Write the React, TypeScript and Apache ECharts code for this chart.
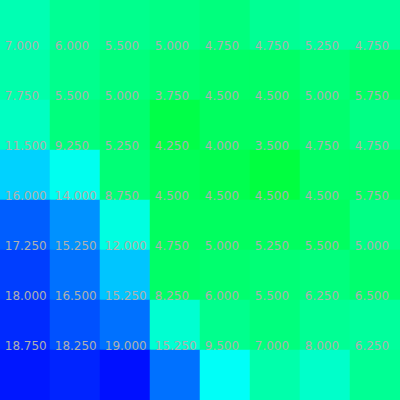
import React, { useEffect, useRef } from "react";
import * as echarts from "echarts";

const xCategories = ["c0", "c1", "c2", "c3", "c4", "c5", "c6", "c7"];
const yCategories = ["r0", "r1", "r2", "r3", "r4", "r5", "r6", "r7"];

// rows from top to bottom
const row0 = [7.25, 6.25, 6.0, 5.75, 5.5, 6.25, 6.5, 6.5];
const row1 = [7.0, 6.0, 5.5, 5.0, 4.75, 4.75, 5.25, 4.75];
const row2 = [7.75, 5.5, 5.0, 3.75, 4.5, 4.5, 5.0, 5.75];
const row3 = [11.5, 9.25, 5.25, 4.25, 4.0, 3.5, 4.75, 4.75];
const row4 = [16.0, 14.0, 8.75, 4.5, 4.5, 4.5, 4.5, 5.75];
const row5 = [17.25, 15.25, 12.0, 4.75, 5.0, 5.25, 5.5, 5.0];
const row6 = [18.0, 16.5, 15.25, 8.25, 6.0, 5.5, 6.25, 6.5];
const row7 = [18.75, 18.25, 19.0, 15.25, 9.5, 7.0, 8.0, 6.25];
const rows = [row0, row1, row2, row3, row4, row5, row6, row7];

const scaleMin = 3.5;
const scaleMax = 19;

function colorAt(v: number): string {
  const clamp = (n: number) => Math.max(0, Math.min(255, Math.round(n)));
  if (v <= 9.75) {
    const b = clamp(64 + (v - 3.5) * 30.6);
    return `rgb(0,255,${b})`;
  }
  const g = clamp(255 - (v - 9.75) * 25.8);
  return `rgb(0,${g},255)`;
}

export default function App() {
  const ref = useRef<HTMLDivElement>(null);
  useEffect(() => {
    if (!ref.current) return;
    const chart = echarts.init(ref.current, undefined, { renderer: "svg" });
    const data: any[] = [];
    rows.forEach((row, yi) =>
      row.forEach((v, xi) =>
        data.push(yi === 0 ? { value: [xi, yi, v], label: { show: false } } : [xi, yi, v])
      )
    );
    const stops: string[] = [];
    for (let v = scaleMin; v <= scaleMax + 1e-9; v += 0.25) stops.push(colorAt(v));
    chart.setOption({
      animation: false,
      grid: { left: 0, right: 0, top: 0, bottom: 0 },
      xAxis: { type: "category", data: xCategories, show: false },
      yAxis: { type: "category", data: yCategories, show: false, inverse: true },
      visualMap: {
        show: false,
        min: scaleMin,
        max: scaleMax,
        inRange: { color: stops },
      },
      series: [
        {
          type: "heatmap",
          data,
          itemStyle: { borderWidth: 0 },
          label: {
            show: true,
            position: [5, 2],
            align: "left",
            verticalAlign: "bottom",
            color: "#b0b0b0",
            fontSize: 12,
            fontFamily: "DejaVu Sans",
            formatter: (p: any) => Number(p.value[2]).toFixed(3),
          },
          emphasis: { disabled: true },
        },
      ],
    });
    return () => chart.dispose();
  }, []);
  return <div ref={ref} style={{ width: 400, height: 400, position: "absolute", left: 0, top: 0 }} />;
}
